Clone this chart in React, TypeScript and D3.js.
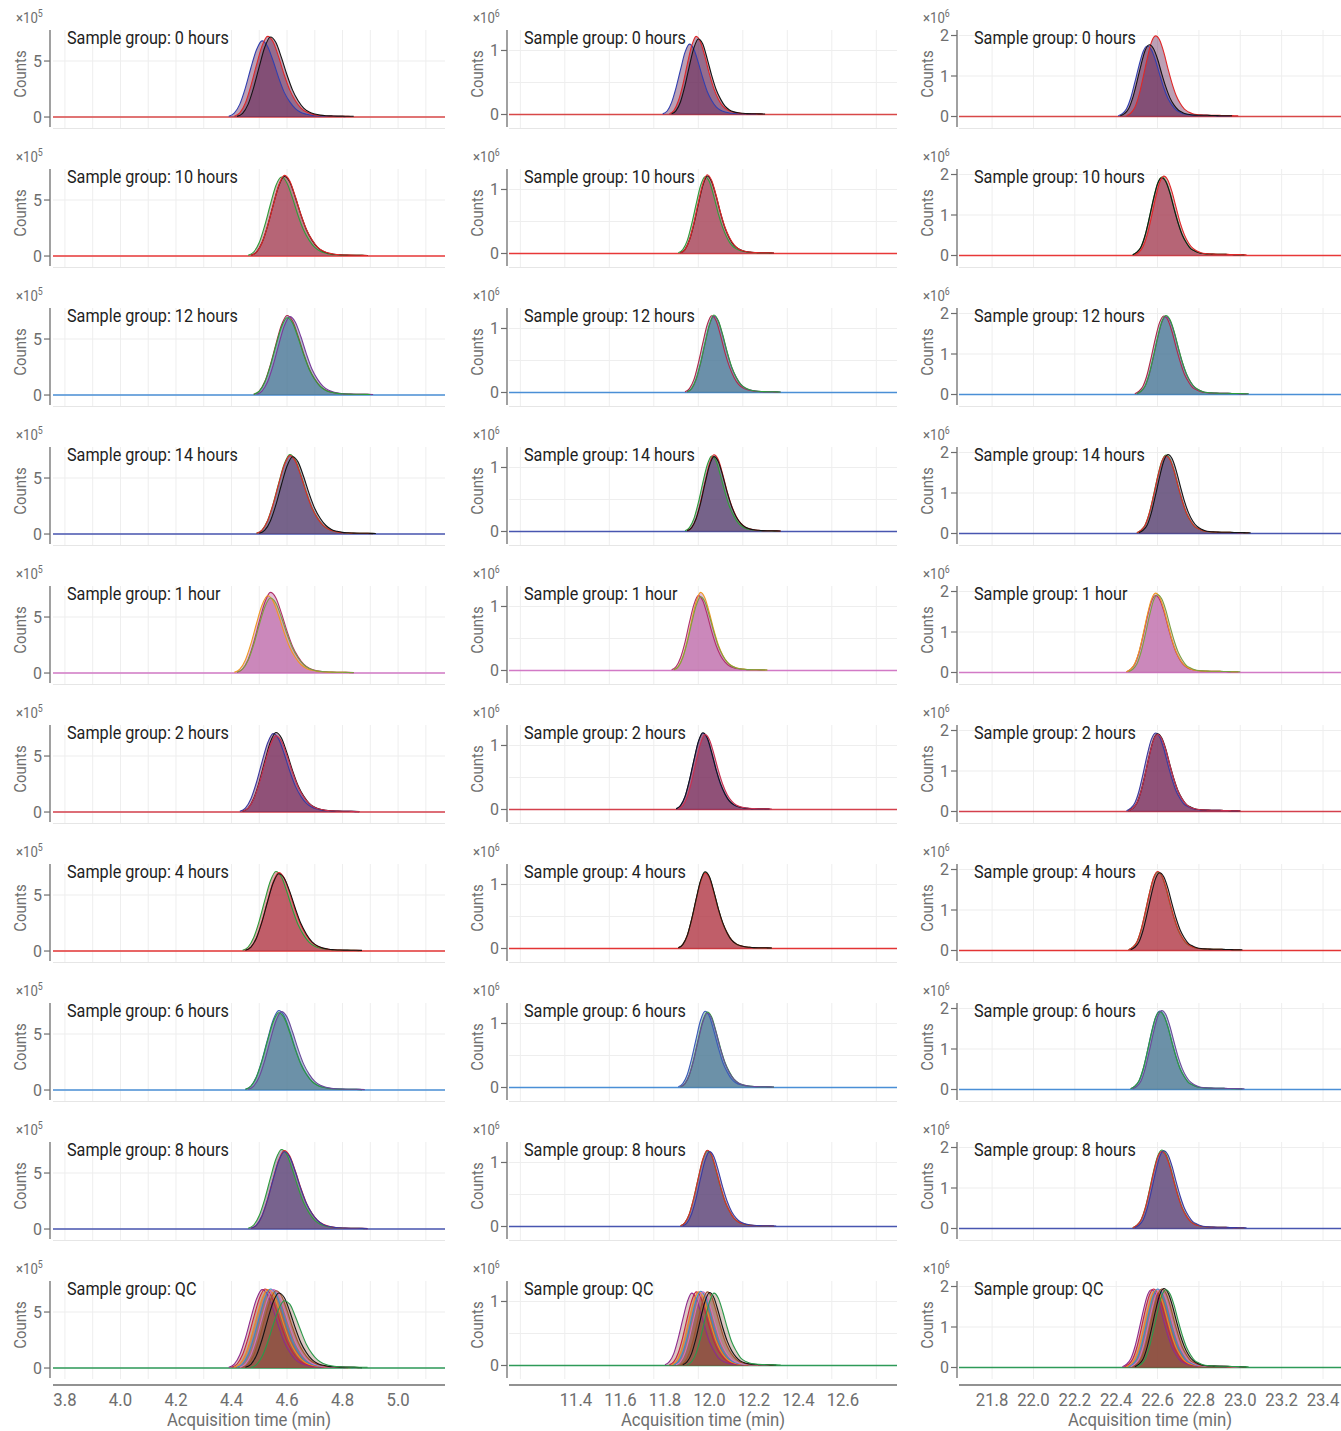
import React from "react";
import * as d3 from "d3";

type Trace = { t0: number; v: number[] };

const groups = ["0 hours", "10 hours", "12 hours", "14 hours", "1 hour", "2 hours", "4 hours", "6 hours", "8 hours", "QC"];
const step = 0.02; // min between chromatogram points

// column 1, counts x10^5
const col1Peaks: Trace[][] = [
  [
    { t0: 4.39, v: [0.07, 0.34, 1.15, 2.6, 4.4, 6.0, 6.8, 6.3, 5.0, 3.5, 2.2, 1.35, 0.75, 0.4, 0.24, 0.15, 0.11, 0.08, 0.07, 0.06, 0.05, 0.04] },
    { t0: 4.41, v: [0.07, 0.37, 1.25, 2.8, 4.65, 6.35, 7.2, 6.7, 5.35, 3.75, 2.4, 1.45, 0.8, 0.44, 0.26, 0.16, 0.12, 0.09, 0.07, 0.07, 0.06, 0.05] },
    { t0: 4.42, v: [0.06, 0.33, 1.15, 2.65, 4.5, 6.25, 7.15, 6.65, 5.3, 3.75, 2.4, 1.45, 0.8, 0.45, 0.27, 0.17, 0.12, 0.1, 0.08, 0.08, 0.07, 0.07] },
  ],
  [
    { t0: 4.46, v: [0.07, 0.36, 1.2, 2.75, 4.6, 6.3, 7.05, 6.5, 5.15, 3.6, 2.3, 1.4, 0.77, 0.42, 0.25, 0.15, 0.11, 0.08, 0.07, 0.07, 0.06, 0.05] },
    { t0: 4.47, v: [0.07, 0.35, 1.2, 2.7, 4.55, 6.25, 7.1, 6.6, 5.25, 3.7, 2.35, 1.42, 0.78, 0.43, 0.25, 0.16, 0.11, 0.09, 0.07, 0.07, 0.06, 0.05] },
    { t0: 4.47, v: [0.06, 0.34, 1.18, 2.68, 4.5, 6.3, 7.2, 6.7, 5.3, 3.72, 2.38, 1.45, 0.8, 0.44, 0.26, 0.16, 0.12, 0.09, 0.08, 0.07, 0.06, 0.05] },
  ],
  [
    { t0: 4.48, v: [0.07, 0.36, 1.2, 2.7, 4.55, 6.25, 7.1, 6.6, 5.25, 3.7, 2.35, 1.42, 0.78, 0.43, 0.25, 0.16, 0.11, 0.09, 0.07, 0.07, 0.06, 0.05] },
    { t0: 4.49, v: [0.07, 0.35, 1.19, 2.66, 4.48, 6.16, 7.0, 6.5, 5.2, 3.65, 2.3, 1.4, 0.77, 0.42, 0.25, 0.15, 0.11, 0.08, 0.07, 0.07, 0.06, 0.05] },
    { t0: 4.48, v: [0.07, 0.35, 1.17, 2.62, 4.42, 6.07, 6.9, 6.42, 5.1, 3.6, 2.28, 1.38, 0.76, 0.41, 0.24, 0.15, 0.11, 0.08, 0.07, 0.07, 0.06, 0.04] },
  ],
  [
    { t0: 4.49, v: [0.07, 0.36, 1.21, 2.7, 4.54, 6.25, 7.1, 6.6, 5.25, 3.69, 2.34, 1.42, 0.78, 0.43, 0.25, 0.16, 0.11, 0.09, 0.07, 0.07, 0.06, 0.04] },
    { t0: 4.49, v: [0.07, 0.35, 1.19, 2.66, 4.48, 6.16, 7.0, 6.51, 5.18, 3.64, 2.31, 1.4, 0.77, 0.42, 0.25, 0.15, 0.11, 0.08, 0.07, 0.07, 0.06, 0.04] },
    { t0: 4.5, v: [0.07, 0.35, 1.17, 2.62, 4.42, 6.07, 6.9, 6.42, 5.11, 3.59, 2.28, 1.38, 0.76, 0.41, 0.24, 0.15, 0.11, 0.08, 0.07, 0.07, 0.06, 0.05] },
  ],
  [
    { t0: 4.42, v: [0.07, 0.36, 1.22, 2.74, 4.6, 6.3, 7.2, 6.7, 5.33, 3.74, 2.38, 1.44, 0.79, 0.43, 0.25, 0.16, 0.12, 0.09, 0.07, 0.07, 0.06, 0.04] },
    { t0: 4.41, v: [0.07, 0.35, 1.17, 2.62, 4.42, 6.07, 6.9, 6.42, 5.11, 3.59, 2.28, 1.38, 0.76, 0.41, 0.24, 0.15, 0.11, 0.08, 0.07, 0.07, 0.06, 0.04] },
    { t0: 4.42, v: [0.07, 0.34, 1.14, 2.55, 4.3, 5.9, 6.7, 6.23, 4.96, 3.48, 2.21, 1.34, 0.74, 0.4, 0.23, 0.15, 0.11, 0.08, 0.07, 0.07, 0.05, 0.04] },
  ],
  [
    { t0: 4.43, v: [0.07, 0.35, 1.19, 2.66, 4.48, 6.16, 7.0, 6.51, 5.18, 3.64, 2.31, 1.4, 0.77, 0.42, 0.25, 0.15, 0.11, 0.08, 0.07, 0.07, 0.06, 0.04] },
    { t0: 4.44, v: [0.07, 0.36, 1.21, 2.7, 4.54, 6.25, 7.1, 6.6, 5.25, 3.69, 2.34, 1.42, 0.78, 0.43, 0.25, 0.16, 0.11, 0.09, 0.07, 0.07, 0.06, 0.04] },
    { t0: 4.44, v: [0.07, 0.34, 1.16, 2.58, 4.35, 5.98, 6.8, 6.32, 5.03, 3.54, 2.24, 1.36, 0.75, 0.41, 0.24, 0.15, 0.11, 0.08, 0.07, 0.07, 0.05, 0.04] },
  ],
  [
    { t0: 4.44, v: [0.07, 0.36, 1.21, 2.7, 4.54, 6.25, 7.1, 6.6, 5.25, 3.69, 2.34, 1.42, 0.78, 0.43, 0.25, 0.16, 0.11, 0.09, 0.07, 0.07, 0.06, 0.04] },
    { t0: 4.45, v: [0.07, 0.35, 1.19, 2.66, 4.48, 6.16, 7.0, 6.51, 5.18, 3.64, 2.31, 1.4, 0.77, 0.42, 0.25, 0.15, 0.11, 0.08, 0.07, 0.07, 0.06, 0.04] },
    { t0: 4.45, v: [0.07, 0.35, 1.17, 2.62, 4.42, 6.07, 6.9, 6.5, 5.3, 3.8, 2.45, 1.5, 0.82, 0.45, 0.26, 0.16, 0.12, 0.09, 0.08, 0.07, 0.07, 0.06] },
  ],
  [
    { t0: 4.45, v: [0.07, 0.36, 1.21, 2.7, 4.54, 6.25, 7.1, 6.6, 5.25, 3.69, 2.34, 1.42, 0.78, 0.43, 0.25, 0.16, 0.11, 0.09, 0.07, 0.07, 0.06, 0.04] },
    { t0: 4.45, v: [0.07, 0.35, 1.17, 2.62, 4.42, 6.07, 6.9, 6.42, 5.11, 3.59, 2.28, 1.38, 0.76, 0.41, 0.24, 0.15, 0.11, 0.08, 0.07, 0.07, 0.06, 0.04] },
    { t0: 4.46, v: [0.07, 0.35, 1.19, 2.66, 4.48, 6.16, 7.0, 6.51, 5.18, 3.64, 2.31, 1.4, 0.77, 0.42, 0.25, 0.15, 0.11, 0.08, 0.07, 0.07, 0.06, 0.04] },
  ],
  [
    { t0: 4.46, v: [0.07, 0.36, 1.21, 2.7, 4.54, 6.25, 7.1, 6.6, 5.25, 3.69, 2.34, 1.42, 0.78, 0.43, 0.25, 0.16, 0.11, 0.09, 0.07, 0.07, 0.06, 0.04] },
    { t0: 4.47, v: [0.07, 0.35, 1.19, 2.66, 4.48, 6.16, 7.0, 6.51, 5.18, 3.64, 2.31, 1.4, 0.77, 0.42, 0.25, 0.15, 0.11, 0.08, 0.07, 0.07, 0.06, 0.04] },
    { t0: 4.47, v: [0.07, 0.35, 1.17, 2.62, 4.42, 6.07, 6.9, 6.42, 5.11, 3.59, 2.28, 1.38, 0.76, 0.41, 0.24, 0.15, 0.11, 0.08, 0.07, 0.07, 0.06, 0.04] },
  ],
  [
    { t0: 4.39, v: [0.07, 0.35, 1.19, 2.66, 4.48, 6.16, 7.0, 6.55, 5.25, 3.7, 2.35, 1.42, 0.78, 0.43, 0.25, 0.15, 0.11, 0.08, 0.07, 0.07, 0.06, 0.04] },
    { t0: 4.4, v: [0.07, 0.36, 1.2, 2.7, 4.52, 6.2, 7.05, 6.6, 5.28, 3.72, 2.36, 1.43, 0.78, 0.43, 0.25, 0.16, 0.11, 0.09, 0.07, 0.07, 0.06, 0.04] },
    { t0: 4.41, v: [0.07, 0.35, 1.19, 2.66, 4.48, 6.16, 7.0, 6.6, 5.3, 3.75, 2.38, 1.44, 0.79, 0.43, 0.25, 0.16, 0.11, 0.09, 0.07, 0.07, 0.06, 0.04] },
    { t0: 4.42, v: [0.07, 0.36, 1.2, 2.7, 4.52, 6.22, 7.05, 6.62, 5.3, 3.74, 2.37, 1.43, 0.78, 0.43, 0.25, 0.16, 0.11, 0.09, 0.07, 0.07, 0.06, 0.04] },
    { t0: 4.43, v: [0.07, 0.35, 1.19, 2.66, 4.48, 6.16, 7.0, 6.55, 5.22, 3.68, 2.33, 1.41, 0.77, 0.42, 0.25, 0.15, 0.11, 0.08, 0.07, 0.07, 0.06, 0.04] },
    { t0: 4.44, v: [0.07, 0.34, 1.17, 2.62, 4.42, 6.07, 6.9, 6.45, 5.15, 3.62, 2.3, 1.39, 0.76, 0.42, 0.24, 0.15, 0.11, 0.08, 0.07, 0.07, 0.06, 0.04] },
    { t0: 4.45, v: [0.07, 0.33, 1.14, 2.55, 4.3, 5.9, 6.7, 6.3, 5.05, 3.56, 2.26, 1.37, 0.75, 0.41, 0.24, 0.15, 0.11, 0.08, 0.07, 0.07, 0.05, 0.04] },
    { t0: 4.47, v: [0.06, 0.3, 1.02, 2.28, 3.84, 5.28, 6.0, 5.7, 4.6, 3.3, 2.1, 1.28, 0.72, 0.4, 0.24, 0.15, 0.11, 0.09, 0.08, 0.08, 0.07, 0.07] },
  ],
];

// column 2, counts x10^6
const col2Peaks: Trace[][] = [
  [
    { t0: 11.79, v: [0.01, 0.055, 0.19, 0.42, 0.7, 0.97, 1.1, 1.02, 0.81, 0.57, 0.36, 0.22, 0.12, 0.066, 0.04, 0.024, 0.018, 0.013, 0.011, 0.011, 0.009, 0.007] },
    { t0: 11.82, v: [0.01, 0.06, 0.21, 0.46, 0.78, 1.07, 1.22, 1.13, 0.9, 0.63, 0.4, 0.24, 0.13, 0.073, 0.043, 0.027, 0.02, 0.015, 0.012, 0.012, 0.01, 0.007] },
    { t0: 11.83, v: [0.01, 0.06, 0.2, 0.45, 0.76, 1.04, 1.18, 1.1, 0.87, 0.61, 0.39, 0.24, 0.13, 0.071, 0.041, 0.026, 0.019, 0.014, 0.012, 0.012, 0.009, 0.007] },
  ],
  [
    { t0: 11.86, v: [0.01, 0.06, 0.2, 0.46, 0.77, 1.06, 1.2, 1.12, 0.89, 0.62, 0.4, 0.24, 0.13, 0.072, 0.042, 0.026, 0.019, 0.014, 0.012, 0.012, 0.01, 0.007] },
    { t0: 11.87, v: [0.01, 0.06, 0.21, 0.46, 0.77, 1.06, 1.21, 1.12, 0.9, 0.63, 0.4, 0.24, 0.13, 0.073, 0.042, 0.027, 0.019, 0.015, 0.012, 0.012, 0.01, 0.007] },
    { t0: 11.87, v: [0.01, 0.06, 0.21, 0.47, 0.79, 1.08, 1.23, 1.14, 0.91, 0.64, 0.41, 0.25, 0.14, 0.074, 0.043, 0.027, 0.02, 0.015, 0.012, 0.012, 0.01, 0.007] },
  ],
  [
    { t0: 11.89, v: [0.01, 0.06, 0.2, 0.46, 0.77, 1.06, 1.2, 1.12, 0.89, 0.62, 0.4, 0.24, 0.13, 0.072, 0.042, 0.026, 0.019, 0.014, 0.012, 0.012, 0.01, 0.007] },
    { t0: 11.9, v: [0.01, 0.06, 0.2, 0.45, 0.76, 1.05, 1.19, 1.11, 0.88, 0.62, 0.39, 0.24, 0.13, 0.071, 0.042, 0.026, 0.019, 0.014, 0.012, 0.012, 0.01, 0.007] },
    { t0: 11.9, v: [0.01, 0.06, 0.21, 0.46, 0.77, 1.06, 1.21, 1.12, 0.9, 0.63, 0.4, 0.24, 0.13, 0.073, 0.042, 0.027, 0.019, 0.015, 0.012, 0.012, 0.01, 0.007] },
  ],
  [
    { t0: 11.89, v: [0.01, 0.06, 0.2, 0.45, 0.76, 1.04, 1.18, 1.1, 0.87, 0.61, 0.39, 0.24, 0.13, 0.071, 0.041, 0.026, 0.019, 0.014, 0.012, 0.012, 0.009, 0.007] },
    { t0: 11.9, v: [0.01, 0.06, 0.2, 0.46, 0.77, 1.06, 1.2, 1.12, 0.89, 0.62, 0.4, 0.24, 0.13, 0.072, 0.042, 0.026, 0.019, 0.014, 0.012, 0.012, 0.01, 0.007] },
    { t0: 11.9, v: [0.01, 0.06, 0.2, 0.44, 0.75, 1.03, 1.17, 1.09, 0.87, 0.61, 0.39, 0.23, 0.13, 0.07, 0.041, 0.026, 0.019, 0.014, 0.012, 0.012, 0.009, 0.007] },
  ],
  [
    { t0: 11.83, v: [0.01, 0.06, 0.2, 0.44, 0.75, 1.03, 1.17, 1.09, 0.87, 0.61, 0.39, 0.23, 0.13, 0.07, 0.041, 0.026, 0.019, 0.014, 0.012, 0.012, 0.009, 0.007] },
    { t0: 11.84, v: [0.01, 0.06, 0.21, 0.46, 0.78, 1.07, 1.22, 1.13, 0.9, 0.63, 0.4, 0.24, 0.13, 0.073, 0.043, 0.027, 0.02, 0.015, 0.012, 0.012, 0.01, 0.007] },
    { t0: 11.84, v: [0.01, 0.06, 0.2, 0.44, 0.74, 1.01, 1.15, 1.07, 0.85, 0.6, 0.38, 0.23, 0.13, 0.069, 0.04, 0.025, 0.018, 0.014, 0.012, 0.012, 0.009, 0.007] },
  ],
  [
    { t0: 11.85, v: [0.01, 0.06, 0.2, 0.45, 0.76, 1.05, 1.19, 1.11, 0.88, 0.62, 0.39, 0.24, 0.13, 0.071, 0.042, 0.026, 0.019, 0.014, 0.012, 0.012, 0.01, 0.007] },
    { t0: 11.85, v: [0.01, 0.06, 0.2, 0.46, 0.77, 1.06, 1.2, 1.12, 0.89, 0.62, 0.4, 0.24, 0.13, 0.072, 0.042, 0.026, 0.019, 0.014, 0.012, 0.012, 0.01, 0.007] },
    { t0: 11.86, v: [0.01, 0.06, 0.2, 0.44, 0.75, 1.03, 1.17, 1.09, 0.87, 0.61, 0.39, 0.23, 0.13, 0.07, 0.041, 0.026, 0.019, 0.014, 0.012, 0.012, 0.009, 0.007] },
  ],
  [
    { t0: 11.86, v: [0.01, 0.06, 0.2, 0.45, 0.76, 1.05, 1.19, 1.11, 0.88, 0.62, 0.39, 0.24, 0.13, 0.071, 0.042, 0.026, 0.019, 0.014, 0.012, 0.012, 0.01, 0.007] },
    { t0: 11.86, v: [0.01, 0.06, 0.2, 0.45, 0.76, 1.04, 1.18, 1.1, 0.87, 0.61, 0.39, 0.24, 0.13, 0.071, 0.041, 0.026, 0.019, 0.014, 0.012, 0.012, 0.009, 0.007] },
    { t0: 11.86, v: [0.01, 0.06, 0.2, 0.46, 0.77, 1.06, 1.2, 1.12, 0.89, 0.62, 0.4, 0.24, 0.13, 0.072, 0.042, 0.026, 0.019, 0.014, 0.012, 0.012, 0.01, 0.007] },
  ],
  [
    { t0: 11.86, v: [0.01, 0.06, 0.2, 0.45, 0.76, 1.05, 1.19, 1.11, 0.88, 0.62, 0.39, 0.24, 0.13, 0.071, 0.042, 0.026, 0.019, 0.014, 0.012, 0.012, 0.01, 0.007] },
    { t0: 11.87, v: [0.01, 0.06, 0.2, 0.45, 0.76, 1.04, 1.18, 1.1, 0.87, 0.61, 0.39, 0.24, 0.13, 0.071, 0.041, 0.026, 0.019, 0.014, 0.012, 0.012, 0.009, 0.007] },
    { t0: 11.87, v: [0.01, 0.06, 0.2, 0.44, 0.74, 1.02, 1.16, 1.08, 0.86, 0.6, 0.38, 0.23, 0.13, 0.07, 0.041, 0.026, 0.019, 0.014, 0.012, 0.012, 0.009, 0.007] },
  ],
  [
    { t0: 11.87, v: [0.01, 0.06, 0.2, 0.45, 0.76, 1.04, 1.18, 1.1, 0.87, 0.61, 0.39, 0.24, 0.13, 0.071, 0.041, 0.026, 0.019, 0.014, 0.012, 0.012, 0.009, 0.007] },
    { t0: 11.87, v: [0.01, 0.06, 0.2, 0.45, 0.76, 1.05, 1.19, 1.11, 0.88, 0.62, 0.39, 0.24, 0.13, 0.071, 0.042, 0.026, 0.019, 0.014, 0.012, 0.012, 0.01, 0.007] },
    { t0: 11.88, v: [0.01, 0.06, 0.2, 0.44, 0.75, 1.03, 1.17, 1.09, 0.87, 0.61, 0.39, 0.23, 0.13, 0.07, 0.041, 0.026, 0.019, 0.014, 0.012, 0.012, 0.009, 0.007] },
  ],
  [
    { t0: 11.8, v: [0.01, 0.06, 0.19, 0.43, 0.72, 0.99, 1.13, 1.05, 0.84, 0.59, 0.37, 0.23, 0.12, 0.068, 0.04, 0.025, 0.018, 0.014, 0.011, 0.011, 0.009, 0.007] },
    { t0: 11.82, v: [0.01, 0.06, 0.2, 0.44, 0.74, 1.01, 1.15, 1.07, 0.85, 0.6, 0.38, 0.23, 0.13, 0.069, 0.04, 0.025, 0.018, 0.014, 0.012, 0.012, 0.009, 0.007] },
    { t0: 11.83, v: [0.01, 0.06, 0.2, 0.44, 0.74, 1.01, 1.15, 1.07, 0.85, 0.6, 0.38, 0.23, 0.13, 0.069, 0.04, 0.025, 0.018, 0.014, 0.012, 0.012, 0.009, 0.007] },
    { t0: 11.84, v: [0.01, 0.06, 0.2, 0.44, 0.74, 1.02, 1.16, 1.08, 0.86, 0.6, 0.38, 0.23, 0.13, 0.07, 0.041, 0.026, 0.019, 0.014, 0.012, 0.012, 0.009, 0.007] },
    { t0: 11.85, v: [0.01, 0.06, 0.2, 0.44, 0.74, 1.01, 1.15, 1.07, 0.85, 0.6, 0.38, 0.23, 0.13, 0.069, 0.04, 0.025, 0.018, 0.014, 0.012, 0.012, 0.009, 0.007] },
    { t0: 11.87, v: [0.01, 0.06, 0.2, 0.44, 0.74, 1.01, 1.15, 1.07, 0.85, 0.6, 0.38, 0.23, 0.13, 0.069, 0.04, 0.025, 0.018, 0.014, 0.012, 0.012, 0.009, 0.007] },
    { t0: 11.88, v: [0.01, 0.06, 0.19, 0.43, 0.73, 1.0, 1.14, 1.06, 0.84, 0.59, 0.38, 0.23, 0.13, 0.068, 0.04, 0.025, 0.018, 0.014, 0.011, 0.011, 0.009, 0.007] },
    { t0: 11.9, v: [0.01, 0.06, 0.19, 0.43, 0.72, 0.99, 1.13, 1.05, 0.84, 0.59, 0.37, 0.23, 0.12, 0.068, 0.04, 0.025, 0.018, 0.014, 0.011, 0.011, 0.009, 0.007] },
  ],
];

// column 3, counts x10^6
const col3Peaks: Trace[][] = [
  [
    { t0: 22.41, v: [0.02, 0.07, 0.19, 0.45, 0.84, 1.25, 1.6, 1.74, 1.65, 1.39, 1.04, 0.71, 0.45, 0.28, 0.16, 0.1, 0.06, 0.045, 0.035, 0.03, 0.03, 0.03, 0.025, 0.025, 0.02, 0.02, 0.02, 0.02] },
    { t0: 22.45, v: [0.02, 0.08, 0.22, 0.52, 0.96, 1.43, 1.83, 1.99, 1.89, 1.59, 1.19, 0.82, 0.52, 0.32, 0.18, 0.11, 0.07, 0.05, 0.04, 0.035, 0.03, 0.03, 0.03, 0.025, 0.025, 0.025, 0.02, 0.02] },
    { t0: 22.42, v: [0.02, 0.07, 0.19, 0.46, 0.85, 1.27, 1.63, 1.77, 1.68, 1.42, 1.06, 0.73, 0.46, 0.28, 0.16, 0.1, 0.06, 0.045, 0.035, 0.03, 0.03, 0.03, 0.025, 0.025, 0.02, 0.02, 0.02, 0.02] },
  ],
  [
    { t0: 22.48, v: [0.02, 0.08, 0.21, 0.5, 0.93, 1.4, 1.78, 1.94, 1.84, 1.55, 1.16, 0.8, 0.5, 0.31, 0.17, 0.11, 0.07, 0.05, 0.04, 0.035, 0.03, 0.03, 0.03, 0.025, 0.025, 0.025, 0.02, 0.02] },
    { t0: 22.48, v: [0.02, 0.08, 0.21, 0.5, 0.92, 1.38, 1.77, 1.92, 1.82, 1.54, 1.15, 0.79, 0.5, 0.31, 0.17, 0.11, 0.07, 0.05, 0.04, 0.035, 0.03, 0.03, 0.03, 0.025, 0.025, 0.02, 0.02, 0.02] },
    { t0: 22.49, v: [0.02, 0.08, 0.22, 0.51, 0.94, 1.41, 1.8, 1.96, 1.86, 1.57, 1.18, 0.8, 0.51, 0.31, 0.18, 0.11, 0.07, 0.05, 0.04, 0.035, 0.03, 0.03, 0.03, 0.025, 0.025, 0.025, 0.02, 0.02] },
  ],
  [
    { t0: 22.49, v: [0.02, 0.08, 0.21, 0.5, 0.93, 1.4, 1.78, 1.94, 1.84, 1.55, 1.16, 0.8, 0.5, 0.31, 0.17, 0.11, 0.07, 0.05, 0.04, 0.035, 0.03, 0.03, 0.03, 0.025, 0.025, 0.025, 0.02, 0.02] },
    { t0: 22.5, v: [0.02, 0.08, 0.21, 0.5, 0.92, 1.38, 1.77, 1.92, 1.82, 1.54, 1.15, 0.79, 0.5, 0.31, 0.17, 0.11, 0.07, 0.05, 0.04, 0.035, 0.03, 0.03, 0.03, 0.025, 0.025, 0.02, 0.02, 0.02] },
    { t0: 22.5, v: [0.02, 0.08, 0.21, 0.51, 0.94, 1.4, 1.79, 1.95, 1.85, 1.56, 1.17, 0.8, 0.51, 0.31, 0.18, 0.11, 0.07, 0.05, 0.04, 0.035, 0.03, 0.03, 0.03, 0.025, 0.025, 0.025, 0.02, 0.02] },
  ],
  [
    { t0: 22.5, v: [0.02, 0.08, 0.21, 0.5, 0.93, 1.4, 1.78, 1.94, 1.84, 1.55, 1.16, 0.8, 0.5, 0.31, 0.17, 0.11, 0.07, 0.05, 0.04, 0.035, 0.03, 0.03, 0.03, 0.025, 0.025, 0.025, 0.02, 0.02] },
    { t0: 22.5, v: [0.02, 0.08, 0.21, 0.5, 0.92, 1.38, 1.77, 1.92, 1.82, 1.54, 1.15, 0.79, 0.5, 0.31, 0.17, 0.11, 0.07, 0.05, 0.04, 0.035, 0.03, 0.03, 0.03, 0.025, 0.025, 0.02, 0.02, 0.02] },
    { t0: 22.51, v: [0.02, 0.08, 0.21, 0.51, 0.94, 1.4, 1.79, 1.95, 1.85, 1.56, 1.17, 0.8, 0.51, 0.31, 0.18, 0.11, 0.07, 0.05, 0.04, 0.035, 0.03, 0.03, 0.03, 0.025, 0.025, 0.025, 0.02, 0.02] },
  ],
  [
    { t0: 22.45, v: [0.02, 0.08, 0.21, 0.49, 0.91, 1.37, 1.75, 1.9, 1.8, 1.52, 1.14, 0.78, 0.49, 0.3, 0.17, 0.1, 0.07, 0.05, 0.04, 0.035, 0.03, 0.03, 0.03, 0.025, 0.025, 0.02, 0.02, 0.02] },
    { t0: 22.45, v: [0.02, 0.08, 0.22, 0.51, 0.94, 1.41, 1.8, 1.96, 1.86, 1.57, 1.18, 0.8, 0.51, 0.31, 0.18, 0.11, 0.07, 0.05, 0.04, 0.035, 0.03, 0.03, 0.03, 0.025, 0.025, 0.025, 0.02, 0.02] },
    { t0: 22.46, v: [0.02, 0.08, 0.21, 0.5, 0.92, 1.38, 1.77, 1.92, 1.82, 1.54, 1.15, 0.79, 0.5, 0.31, 0.17, 0.11, 0.07, 0.05, 0.04, 0.035, 0.03, 0.03, 0.03, 0.025, 0.025, 0.02, 0.02, 0.02] },
  ],
  [
    { t0: 22.45, v: [0.02, 0.08, 0.21, 0.5, 0.93, 1.4, 1.78, 1.94, 1.84, 1.55, 1.16, 0.8, 0.5, 0.31, 0.17, 0.11, 0.07, 0.05, 0.04, 0.035, 0.03, 0.03, 0.03, 0.025, 0.025, 0.025, 0.02, 0.02] },
    { t0: 22.46, v: [0.02, 0.08, 0.21, 0.5, 0.92, 1.38, 1.77, 1.92, 1.82, 1.54, 1.15, 0.79, 0.5, 0.31, 0.17, 0.11, 0.07, 0.05, 0.04, 0.035, 0.03, 0.03, 0.03, 0.025, 0.025, 0.02, 0.02, 0.02] },
    { t0: 22.46, v: [0.02, 0.08, 0.21, 0.49, 0.91, 1.37, 1.75, 1.9, 1.8, 1.52, 1.14, 0.78, 0.49, 0.3, 0.17, 0.1, 0.07, 0.05, 0.04, 0.035, 0.03, 0.03, 0.03, 0.025, 0.025, 0.02, 0.02, 0.02] },
  ],
  [
    { t0: 22.46, v: [0.02, 0.08, 0.21, 0.5, 0.93, 1.4, 1.78, 1.94, 1.84, 1.55, 1.16, 0.8, 0.5, 0.31, 0.17, 0.11, 0.07, 0.05, 0.04, 0.035, 0.03, 0.03, 0.03, 0.025, 0.025, 0.025, 0.02, 0.02] },
    { t0: 22.46, v: [0.02, 0.08, 0.21, 0.51, 0.94, 1.4, 1.79, 1.95, 1.85, 1.56, 1.17, 0.8, 0.51, 0.31, 0.18, 0.11, 0.07, 0.05, 0.04, 0.035, 0.03, 0.03, 0.03, 0.025, 0.025, 0.025, 0.02, 0.02] },
    { t0: 22.47, v: [0.02, 0.08, 0.21, 0.5, 0.92, 1.38, 1.77, 1.92, 1.82, 1.54, 1.15, 0.79, 0.5, 0.31, 0.17, 0.11, 0.07, 0.05, 0.04, 0.035, 0.03, 0.03, 0.03, 0.025, 0.025, 0.02, 0.02, 0.02] },
  ],
  [
    { t0: 22.47, v: [0.02, 0.08, 0.21, 0.5, 0.93, 1.4, 1.78, 1.94, 1.84, 1.55, 1.16, 0.8, 0.5, 0.31, 0.17, 0.11, 0.07, 0.05, 0.04, 0.035, 0.03, 0.03, 0.03, 0.025, 0.025, 0.025, 0.02, 0.02] },
    { t0: 22.47, v: [0.02, 0.08, 0.21, 0.5, 0.92, 1.38, 1.77, 1.92, 1.82, 1.54, 1.15, 0.79, 0.5, 0.31, 0.17, 0.11, 0.07, 0.05, 0.04, 0.035, 0.03, 0.03, 0.03, 0.025, 0.025, 0.02, 0.02, 0.02] },
    { t0: 22.48, v: [0.02, 0.08, 0.21, 0.51, 0.94, 1.4, 1.79, 1.95, 1.85, 1.56, 1.17, 0.8, 0.51, 0.31, 0.18, 0.11, 0.07, 0.05, 0.04, 0.035, 0.03, 0.03, 0.03, 0.025, 0.025, 0.025, 0.02, 0.02] },
  ],
  [
    { t0: 22.48, v: [0.02, 0.08, 0.21, 0.5, 0.93, 1.4, 1.78, 1.94, 1.84, 1.55, 1.16, 0.8, 0.5, 0.31, 0.17, 0.11, 0.07, 0.05, 0.04, 0.035, 0.03, 0.03, 0.03, 0.025, 0.025, 0.025, 0.02, 0.02] },
    { t0: 22.48, v: [0.02, 0.08, 0.21, 0.49, 0.91, 1.37, 1.75, 1.9, 1.8, 1.52, 1.14, 0.78, 0.49, 0.3, 0.17, 0.1, 0.07, 0.05, 0.04, 0.035, 0.03, 0.03, 0.03, 0.025, 0.025, 0.02, 0.02, 0.02] },
    { t0: 22.49, v: [0.02, 0.08, 0.21, 0.5, 0.92, 1.38, 1.77, 1.92, 1.82, 1.54, 1.15, 0.79, 0.5, 0.31, 0.17, 0.11, 0.07, 0.05, 0.04, 0.035, 0.03, 0.03, 0.03, 0.025, 0.025, 0.02, 0.02, 0.02] },
  ],
  [
    { t0: 22.43, v: [0.02, 0.08, 0.21, 0.5, 0.92, 1.38, 1.77, 1.92, 1.82, 1.54, 1.15, 0.79, 0.5, 0.31, 0.17, 0.11, 0.07, 0.05, 0.04, 0.035, 0.03, 0.03, 0.03, 0.025, 0.025, 0.02, 0.02, 0.02] },
    { t0: 22.44, v: [0.02, 0.08, 0.21, 0.5, 0.93, 1.4, 1.78, 1.94, 1.84, 1.55, 1.16, 0.8, 0.5, 0.31, 0.17, 0.11, 0.07, 0.05, 0.04, 0.035, 0.03, 0.03, 0.03, 0.025, 0.025, 0.025, 0.02, 0.02] },
    { t0: 22.45, v: [0.02, 0.08, 0.21, 0.49, 0.91, 1.37, 1.75, 1.9, 1.8, 1.52, 1.14, 0.78, 0.49, 0.3, 0.17, 0.1, 0.07, 0.05, 0.04, 0.035, 0.03, 0.03, 0.03, 0.025, 0.025, 0.02, 0.02, 0.02] },
    { t0: 22.46, v: [0.02, 0.08, 0.21, 0.5, 0.93, 1.4, 1.78, 1.94, 1.84, 1.55, 1.16, 0.8, 0.5, 0.31, 0.17, 0.11, 0.07, 0.05, 0.04, 0.035, 0.03, 0.03, 0.03, 0.025, 0.025, 0.025, 0.02, 0.02] },
    { t0: 22.47, v: [0.02, 0.08, 0.21, 0.5, 0.92, 1.38, 1.77, 1.92, 1.82, 1.54, 1.15, 0.79, 0.5, 0.31, 0.17, 0.11, 0.07, 0.05, 0.04, 0.035, 0.03, 0.03, 0.03, 0.025, 0.025, 0.02, 0.02, 0.02] },
    { t0: 22.48, v: [0.02, 0.08, 0.21, 0.5, 0.93, 1.4, 1.78, 1.94, 1.84, 1.55, 1.16, 0.8, 0.5, 0.31, 0.17, 0.11, 0.07, 0.05, 0.04, 0.035, 0.03, 0.03, 0.03, 0.025, 0.025, 0.025, 0.02, 0.02] },
    { t0: 22.49, v: [0.02, 0.08, 0.21, 0.51, 0.94, 1.4, 1.79, 1.95, 1.85, 1.56, 1.17, 0.8, 0.51, 0.31, 0.18, 0.11, 0.07, 0.05, 0.04, 0.035, 0.03, 0.03, 0.03, 0.025, 0.025, 0.025, 0.02, 0.02] },
    { t0: 22.5, v: [0.02, 0.08, 0.21, 0.5, 0.92, 1.38, 1.77, 1.92, 1.82, 1.54, 1.15, 0.79, 0.5, 0.31, 0.17, 0.11, 0.07, 0.05, 0.04, 0.035, 0.03, 0.03, 0.03, 0.025, 0.025, 0.02, 0.02, 0.02] },
  ],
];

// axes per column
const xDomains = [[3.757, 5.169], [11.099, 12.843], [21.64, 23.487]];
const yDomains = [[-0.98, 7.77], [-0.211, 1.32], [-0.284, 2.136]];
const xTicks = [
  [3.8, 4.0, 4.2, 4.4, 4.6, 4.8, 5.0],
  [11.4, 11.6, 11.8, 12.0, 12.2, 12.4, 12.6],
  [21.8, 22.0, 22.2, 22.4, 22.6, 22.8, 23.0, 23.2, 23.4],
];
const xGrid = [
  [3.8, 3.9, 4.0, 4.1, 4.2, 4.3, 4.4, 4.5, 4.6, 4.7, 4.8, 4.9, 5.0, 5.1],
  [11.15, 11.35, 11.55, 11.75, 11.95, 12.15, 12.35, 12.55, 12.75],
  [21.8, 22.0, 22.2, 22.4, 22.6, 22.8, 23.0, 23.2, 23.4],
];
const yTicks = [[0, 5], [0, 1], [0, 1, 2]];
const yGrid = [[0, 5], [0, 0.5, 1], [0, 1, 2]];
const exponents = ["5", "6", "6"];

const fillColors = ["#6b2d5c", "#a8485a", "#4d7b99", "#5b4474", "#c070ac", "#7a2e5e", "#b33f4b", "#4f7c96", "#5e4578", "#8c4b3c"];
const baselineColors = ["#d84848", "#e83838", "#4a8fd6", "#4856b0", "#d27ac6", "#d4404c", "#e33434", "#4a8fd6", "#4856b0", "#2e9a58"];
const strokeColors = [
  ["#3040b0", "#e02828", "#141414"],
  ["#2e9e3a", "#141414", "#e02828"],
  ["#b02848", "#7a3a9a", "#2e9e3a"],
  ["#2e9e3a", "#e02828", "#141414"],
  ["#b0306a", "#f09a20", "#7aa040"],
  ["#3a3aa0", "#141414", "#c83050"],
  ["#2e9e3a", "#e02828", "#141414"],
  ["#3a5ab8", "#2e9e3a", "#6a4a9a"],
  ["#2e9e3a", "#e02828", "#3a3aa0"],
  ["#8e2a8e", "#c82040", "#f08a20", "#3a8ac8", "#d070c0", "#a0522d", "#141414", "#2a9a4a"],
];

const W = 1341;
const H = 1431;
const rowH = 139;
const colBoxes = [
  { axisX: 50, x0: 53, x1: 445 },
  { axisX: 507, x0: 509, x1: 897 },
  { axisX: 957, x0: 959, x1: 1341 },
];
const font = "Roboto, 'Noto Sans', sans-serif";
const squeeze = 0.88;
const axisGray = "#6e6e6e";

function Panel({ r, c }: { r: number; c: number }) {
  const box = colBoxes[c];
  const top = r * rowH;
  const last = r === groups.length - 1;
  const x = d3.scaleLinear().domain(xDomains[c]).range([box.x0, box.x1]);
  const y = d3.scaleLinear().domain(yDomains[c]).range([top + 128, top + 30]);
  const area = d3
    .area<[number, number]>()
    .x((d) => x(d[0]))
    .y0(y(0))
    .y1((d) => y(d[1]))
    .curve(d3.curveMonotoneX);
  const line = d3
    .line<[number, number]>()
    .x((d) => x(d[0]))
    .y((d) => y(d[1]))
    .curve(d3.curveMonotoneX);
  const traces = [col1Peaks, col2Peaks, col3Peaks][c][r].map((tr) =>
    tr.v.map((val, i) => [tr.t0 + i * step, val] as [number, number])
  );
  const strokes = strokeColors[r];

  return (
    <g>
      {xGrid[c].map((t) => (
        <line key={"vx" + t} x1={x(t)} x2={x(t)} y1={top + 30} y2={top + 128} stroke="#eeeeee" strokeWidth={1} />
      ))}
      {yGrid[c].map((v) => (
        <line key={"hy" + v} x1={box.x0} x2={box.x1} y1={y(v)} y2={y(v)} stroke="#eeeeee" strokeWidth={1.2} />
      ))}
      {!last && <line x1={box.x0} x2={box.x1} y1={top + 128.5} y2={top + 128.5} stroke="#e6e6e6" strokeWidth={1} />}

      <line x1={box.x0} x2={box.x1} y1={y(0)} y2={y(0)} stroke={baselineColors[r]} strokeWidth={1.5} />

      {traces.map((pts, k) => (
        <path key={"a" + k} d={area(pts) || ""} fill={fillColors[r]} fillOpacity={r === 9 ? 0.3 : 0.45} />
      ))}
      {traces.map((pts, k) => (
        <path key={"l" + k} d={line(pts) || ""} fill="none" stroke={strokes[k % strokes.length]} strokeWidth={1.1} />
      ))}

      {/* y axis */}
      <line x1={box.axisX} x2={box.axisX} y1={top + 30} y2={top + 127} stroke={axisGray} strokeWidth={1.3} />
      {yTicks[c].map((v) => (
        <g key={"yt" + v}>
          <line x1={box.axisX - 6} x2={box.axisX} y1={y(v)} y2={y(v)} stroke={axisGray} strokeWidth={1.2} />
          <text
            x={box.axisX - 8}
            y={y(v)}
            dy="0.36em"
            textAnchor="end"
            fontFamily={font}
            fontSize={16}
            fill={axisGray}
          >
            {d3.format("d")(v)}
          </text>
        </g>
      ))}
      <text
        transform={`translate(${box.axisX - 34},${top + 23}) scale(${squeeze},1)`}
        fontFamily={font}
        fontSize={15}
        fill={axisGray}
      >
        ×10
        <tspan dy={-6} fontSize={10}>
          {exponents[c]}
        </tspan>
      </text>
      <text
        transform={`translate(${box.axisX - 24},${top + 74}) rotate(-90) scale(${squeeze},1)`}
        textAnchor="middle"
        fontFamily={font}
        fontSize={17}
        fill={axisGray}
      >
        Counts
      </text>

      <text
        transform={`translate(${box.axisX + 17},${top + 44}) scale(0.9,1)`}
        fontFamily={font}
        fontSize={18}
        fill="#1e1e1e"
      >
        {"Sample group: " + groups[r]}
      </text>

      {last && (
        <g>
          <line x1={box.x0} x2={box.x1} y1={top + 134} y2={top + 134} stroke={axisGray} strokeWidth={1.3} />
          {xTicks[c].map((t) => (
            <text
              key={"xt" + t}
              transform={`translate(${x(t)},${top + 155}) scale(${squeeze},1)`}
              textAnchor="middle"
              fontFamily={font}
              fontSize={19}
              fill={axisGray}
            >
              {d3.format(".1f")(t)}
            </text>
          ))}
          <text
            transform={`translate(${(box.x0 + box.x1) / 2},${top + 175}) scale(${squeeze},1)`}
            textAnchor="middle"
            fontFamily={font}
            fontSize={19}
            fill={axisGray}
          >
            Acquisition time (min)
          </text>
        </g>
      )}
    </g>
  );
}

export default function App() {
  return (
    <svg
      width={W}
      height={H}
      style={{ position: "absolute", left: 0, top: 0, background: "#ffffff" }}
    >
      <rect width={W} height={H} fill="#ffffff" />
      {groups.map((g, r) => [0, 1, 2].map((c) => <Panel key={g + c} r={r} c={c} />))}
    </svg>
  );
}
